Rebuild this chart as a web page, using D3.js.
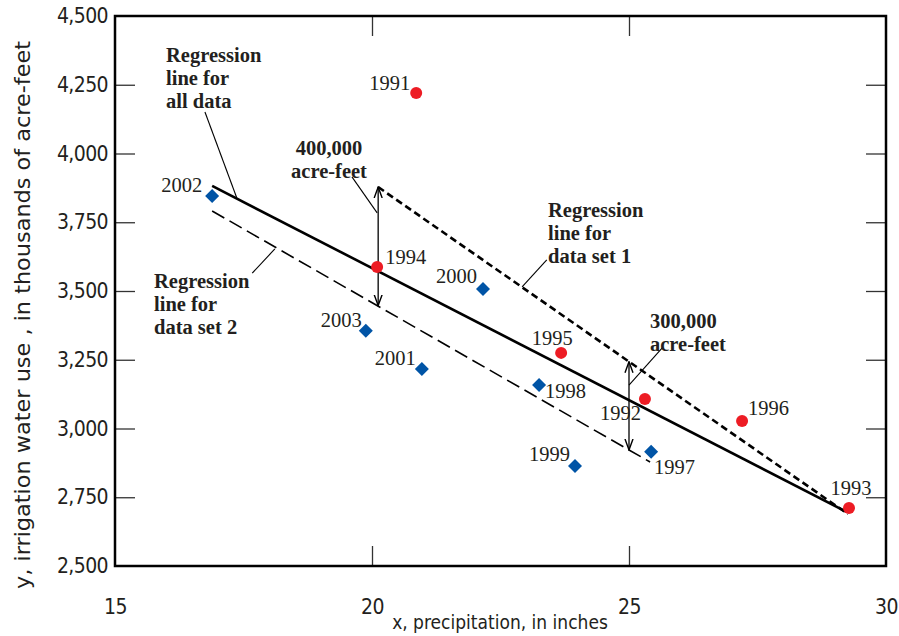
<!DOCTYPE html>
<html>
<head>
<meta charset="utf-8">
<script src="https://cdn.jsdelivr.net/npm/d3@7"></script>
<style>
  body { margin: 0; background: #fff; }
  .tick-label { font-family: "Liberation Sans Narrow", "DejaVu Sans Condensed", sans-serif; font-size: 21px; letter-spacing: -0.6px; fill: #231f20; }
  .title { font-family: "Liberation Sans Narrow", "DejaVu Sans Condensed", sans-serif; font-size: 21px; fill: #231f20; }
  .year { font-family: "Liberation Serif", serif; font-size: 20.5px; fill: #231f20; }
  .note { font-family: "Liberation Serif", serif; font-size: 20.5px; font-weight: bold; fill: #231f20; }
</style>
</head>
<body>
<svg id="chart"></svg>
<script>
// Chart size (matches the window)
const width = 899;
const height = 636;

// ---- data ----
// data set 1 (red circles)
const set1Years = ["1991", "1992", "1993", "1994", "1995", "1996"];
const set1Precip = [20.86, 25.31, 29.28, 20.10, 23.68, 27.20];
const set1Use = [4220, 3107, 2711, 3587, 3275, 3027];

// data set 2 (blue diamonds)
const set2Years = ["1997", "1998", "1999", "2000", "2001", "2002", "2003"];
const set2Precip = [25.43, 23.25, 23.95, 22.16, 20.97, 16.89, 19.88];
const set2Use = [2915, 3158, 2864, 3507, 3216, 3845, 3355];

// regression lines: [x0, y0, x1, y1]
const lineAll = [16.89, 3882, 29.24, 2696];
const lineSet1 = [20.12, 3878, 29.26, 2689];
const lineSet2 = [16.89, 3791, 25.41, 2878];

// difference arrows: x, top, bottom
const arrowX = [20.12, 25.0];
const arrowTop = [3878, 3243];
const arrowBottom = [3447, 2922];

// axis ticks
const xTicks = [15, 20, 25, 30];
const yTicks = [2500, 2750, 3000, 3250, 3500, 3750, 4000, 4250, 4500];
const yInnerTicks = [2750, 3000, 3250, 3500, 3750, 4000, 4250];
const xInnerTicks = [20, 25];

// ---- scales ----
const x = d3.scaleLinear().domain([15, 30]).range([115, 886]);
const y = d3.scaleLinear().domain([2500, 4500]).range([566, 16]);

const svg = d3.select("#chart")
  .attr("width", width)
  .attr("height", height);

// inner ticks on all four sides
svg.append("g")
  .attr("transform", `translate(0,${y(2500)})`)
  .call(d3.axisTop(x).tickValues(xInnerTicks).tickSize(20).tickFormat(""));
svg.append("g")
  .attr("transform", `translate(0,${y(4500)})`)
  .call(d3.axisBottom(x).tickValues(xInnerTicks).tickSize(20).tickFormat(""));
svg.append("g")
  .attr("transform", `translate(${x(15)},0)`)
  .call(d3.axisRight(y).tickValues(yInnerTicks).tickSize(20).tickFormat(""));
svg.append("g")
  .attr("transform", `translate(${x(30)},0)`)
  .call(d3.axisLeft(y).tickValues(yInnerTicks).tickSize(20).tickFormat(""));
svg.selectAll(".domain").remove();
svg.selectAll(".tick line").attr("stroke", "#333").attr("stroke-width", 1.3);

// tick labels
const xLab = svg.append("g")
  .attr("transform", `translate(0,${y(2500)})`)
  .call(d3.axisBottom(x).tickValues(xTicks).tickSize(0).tickPadding(33));
const yLab = svg.append("g")
  .attr("transform", `translate(${x(15)},0)`)
  .call(d3.axisLeft(y).tickValues(yTicks).tickSize(0).tickPadding(7).tickFormat(d3.format(",")));
[xLab, yLab].forEach(g => {
  g.select(".domain").remove();
  g.selectAll("text").attr("class", "tick-label").attr("fill", null);
  g.attr("font-family", null).attr("font-size", null);
});

// frame
svg.append("rect")
  .attr("x", x(15))
  .attr("y", y(4500))
  .attr("width", x(30) - x(15))
  .attr("height", y(2500) - y(4500))
  .attr("fill", "none")
  .attr("stroke", "#000")
  .attr("stroke-width", 2.5);

// axis titles
svg.append("text")
  .attr("class", "title")
  .attr("x", 500)
  .attr("y", 629)
  .attr("text-anchor", "middle")
  .style("font-size", "19px")
  .text("x, precipitation, in inches");

svg.append("text")
  .attr("class", "title")
  .attr("transform", `translate(30,315) rotate(-90)`)
  .attr("text-anchor", "middle")
  .attr("textLength", 548)
  .attr("lengthAdjust", "spacingAndGlyphs")
  .text("y, irrigation water use , in thousands of acre-feet");

// regression lines
function drawLine(l, dash, w) {
  svg.append("line")
    .attr("x1", x(l[0])).attr("y1", y(l[1]))
    .attr("x2", x(l[2])).attr("y2", y(l[3]))
    .attr("stroke", "#000")
    .attr("stroke-width", w)
    .attr("stroke-dasharray", dash);
}
drawLine(lineSet2, "14,6", 1.6);
drawLine(lineSet1, "7,4", 2.6);
drawLine(lineAll, null, 2.6);

// arrow markers
svg.append("defs").append("marker")
  .attr("id", "arrow")
  .attr("viewBox", "0 -5 12 10")
  .attr("refX", 11)
  .attr("refY", 0)
  .attr("markerUnits", "userSpaceOnUse")
  .attr("markerWidth", 12)
  .attr("markerHeight", 10)
  .attr("orient", "auto-start-reverse")
  .append("path")
  .attr("d", "M0,-4L11,0L0,4")
  .attr("fill", "none")
  .attr("stroke", "#000")
  .attr("stroke-width", 1.4);

arrowX.forEach((ax, i) => {
  svg.append("line")
    .attr("x1", x(ax)).attr("y1", y(arrowTop[i]))
    .attr("x2", x(ax)).attr("y2", y(arrowBottom[i]))
    .attr("stroke", "#000")
    .attr("stroke-width", 1.3)
    .attr("marker-start", "url(#arrow)")
    .attr("marker-end", "url(#arrow)");
});

// leader lines for the notes
const leaders = [
  [16.75, 4151, 17.37, 3838],
  [19.61, 3915, 20.10, 3784],
  [17.67, 3565, 18.11, 3653],
  [23.40, 3613, 22.92, 3515],
  [25.66, 3296, 25.00, 3158]
];
svg.selectAll(".leader")
  .data(leaders)
  .enter()
  .append("line")
  .attr("class", "leader")
  .attr("x1", d => x(d[0])).attr("y1", d => y(d[1]))
  .attr("x2", d => x(d[2])).attr("y2", d => y(d[3]))
  .attr("stroke", "#000")
  .attr("stroke-width", 1.1);

// bold notes (placed in pixels)
const notes = [
  { lines: ["Regression", "line for", "all data"], px: 166, py: 62, anchor: "start" },
  { lines: ["400,000", "acre-feet"], px: 329, py: 155, anchor: "middle" },
  { lines: ["Regression", "line for", "data set 2"], px: 154, py: 288, anchor: "start" },
  { lines: ["Regression", "line for", "data set 1"], px: 548, py: 217, anchor: "start" },
  { lines: ["300,000", "acre-feet"], px: 650, py: 328, anchor: "start" }
];
notes.forEach(n => {
  const t = svg.append("text")
    .attr("class", "note")
    .attr("text-anchor", n.anchor);
  n.lines.forEach((s, i) => {
    t.append("tspan").attr("x", n.px).attr("y", n.py + i * 23).text(s);
  });
});

// year label offsets (pixels from the point)
const labelPos = {
  "1991": [-6, -3, "end"], "1992": [-4, 21, "end"], "1993": [2, -13, "middle"],
  "1994": [8, -3, "start"], "1995": [-9, -8, "middle"], "1996": [6, -6, "start"],
  "1997": [3, 22, "start"], "1998": [6, 13, "start"], "1999": [-5, -5, "end"],
  "2000": [-6, -6, "end"], "2001": [-6, -4, "end"], "2002": [-10, -4, "end"],
  "2003": [-4, -4, "end"]
};

// data set 2 markers (diamonds)
set2Years.forEach((yr, i) => {
  const cx = x(set2Precip[i]);
  const cy = y(set2Use[i]);
  svg.append("path")
    .attr("d", d3.symbol(d3.symbolSquare, 98)())
    .attr("transform", `translate(${cx},${cy}) rotate(45)`)
    .attr("fill", "#0054a6");
  const p = labelPos[yr];
  svg.append("text")
    .attr("class", "year")
    .attr("x", cx + p[0]).attr("y", cy + p[1])
    .attr("text-anchor", p[2])
    .text(yr);
});

// data set 1 markers (circles)
set1Years.forEach((yr, i) => {
  const cx = x(set1Precip[i]);
  const cy = y(set1Use[i]);
  svg.append("circle")
    .attr("cx", cx).attr("cy", cy)
    .attr("r", 6)
    .attr("fill", "#ed1c24");
  const p = labelPos[yr];
  svg.append("text")
    .attr("class", "year")
    .attr("x", cx + p[0]).attr("y", cy + p[1])
    .attr("text-anchor", p[2])
    .text(yr);
});
</script>
</body>
</html>
